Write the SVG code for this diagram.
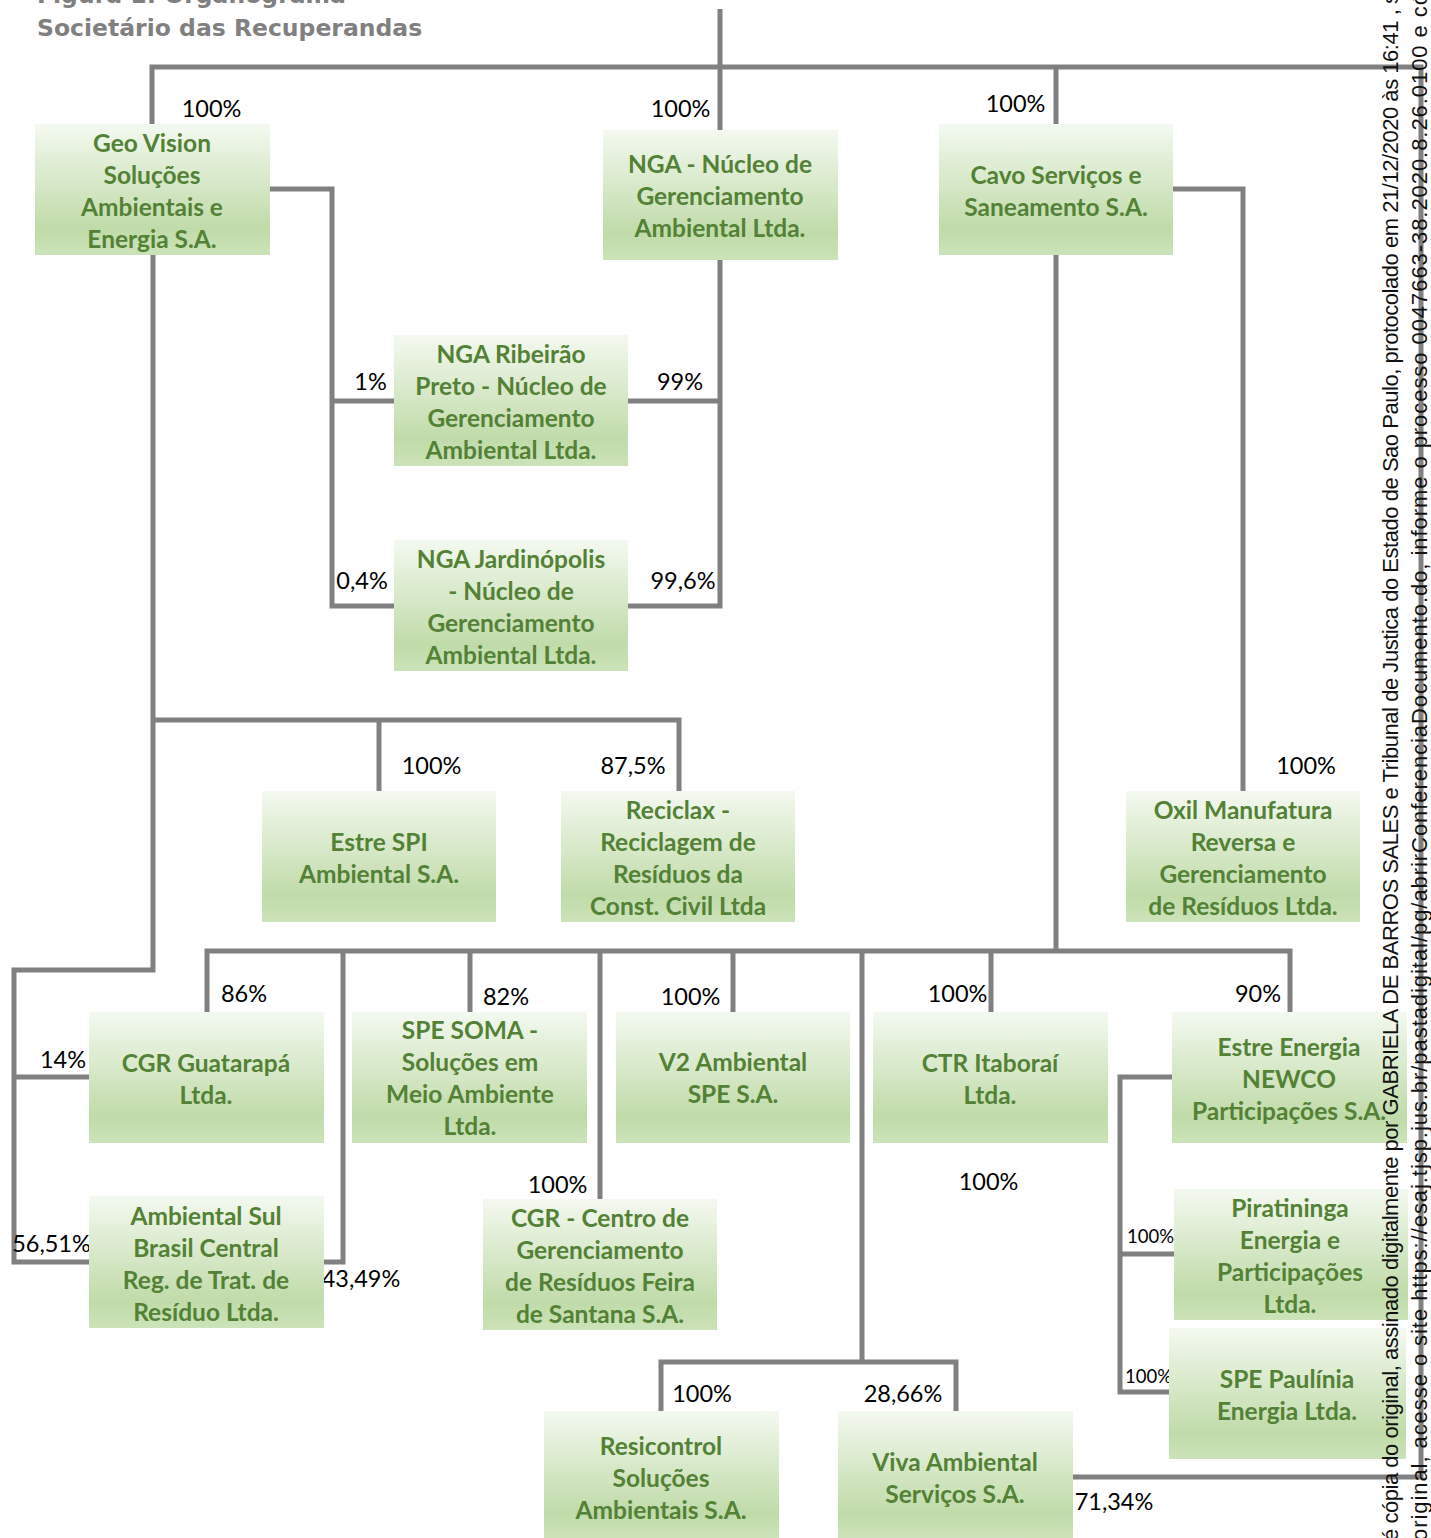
<svg xmlns="http://www.w3.org/2000/svg" width="1431" height="1538" viewBox="0 0 1431 1538">
<defs>
<linearGradient id="g" x1="0" y1="0" x2="0" y2="1">
<stop offset="0" stop-color="#f4f9f0"/>
<stop offset="0.8" stop-color="#c0dba9"/>
<stop offset="1" stop-color="#cce3b9"/>
</linearGradient>
<style>
.box{fill:url(#g);}
.bt{font-family:Lato,"Liberation Sans",sans-serif;font-weight:bold;font-size:24.5px;fill:#538135;text-anchor:middle;}
.pc{font-family:Lato,"Liberation Sans",sans-serif;font-size:23.5px;fill:#000;text-anchor:middle;}
.ps{font-family:Lato,"Liberation Sans",sans-serif;font-size:18.5px;fill:#000;text-anchor:middle;}
.ln{fill:none;stroke:#808080;stroke-width:5;stroke-linejoin:miter;stroke-linecap:butt;}
.ttl{font-family:"DejaVu Sans",Verdana,sans-serif;font-weight:bold;font-size:23.5px;fill:#808080;}
.stamp{font-family:"Liberation Sans",Arial,sans-serif;font-size:22px;fill:#111;}
</style>
</defs>
<rect width="1431" height="1538" fill="#fff"/>
<g id="title">
<text class="ttl" x="37" y="3">Figura 1: Organograma</text>
<text class="ttl" x="37" y="36">Societário das Recuperandas</text>
</g>
<g id="connectors">
<path class="ln" d="M720,9 V130"/>
<path class="ln" d="M152,125 V67 H1421 V1477 H1073"/>
<path class="ln" d="M1056,67 V124"/>
<path class="ln" d="M270,189 H332 V606 H394 M332,401 H394"/>
<path class="ln" d="M720,260 V606 H628 M628,401 H720"/>
<path class="ln" d="M153,255 V970 H14 V1262 H89 M14,1077 H89"/>
<path class="ln" d="M153,720 H679 V791 M379,720 V791"/>
<path class="ln" d="M1056,255 V951"/>
<path class="ln" d="M207,1012 V951 H1290 V1012"/>
<path class="ln" d="M343,951 V1262 H324"/>
<path class="ln" d="M470,951 V1012 M600,951 V1199 M733,951 V1012 M862,951 V1362 M991,951 V1012"/>
<path class="ln" d="M1173,189 H1243 V791"/>
<path class="ln" d="M1172,1077 H1120 V1392 H1169 M1120,1254 H1174"/>
<path class="ln" d="M661,1411 V1362 H956 V1411"/>
</g>
<g id="labels">
<text class="pc" x="211.5" y="117">100%</text>
<text class="pc" x="680.5" y="117">100%</text>
<text class="pc" x="1015.5" y="112">100%</text>
<text class="pc" x="370.5" y="390">1%</text>
<text class="pc" x="680" y="390">99%</text>
<text class="pc" x="362" y="589">0,4%</text>
<text class="pc" x="683" y="589">99,6%</text>
<text class="pc" x="431.5" y="774">100%</text>
<text class="pc" x="633" y="774">87,5%</text>
<text class="pc" x="1306" y="774">100%</text>
<text class="pc" x="244" y="1002">86%</text>
<text class="pc" x="506" y="1005">82%</text>
<text class="pc" x="690.5" y="1005">100%</text>
<text class="pc" x="957.5" y="1002">100%</text>
<text class="pc" x="1258" y="1002">90%</text>
<text class="pc" x="63" y="1068">14%</text>
<text class="pc" x="51.5" y="1252">56,51%</text>
<text class="pc" x="361" y="1287">43,49%</text>
<text class="pc" x="557.5" y="1193">100%</text>
<text class="pc" x="988.5" y="1190">100%</text>
<text class="ps" x="1150.5" y="1243">100%</text>
<text class="ps" x="1148.5" y="1383">100%</text>
<text class="pc" x="702" y="1402">100%</text>
<text class="pc" x="903" y="1402">28,66%</text>
<text class="pc" x="1114" y="1510">71,34%</text>
</g>
<g id="geovision"><rect class="box" x="35" y="124" width="235" height="131"/>
<text class="bt"><tspan x="152" y="151.5">Geo Vision</tspan><tspan x="152" y="183.5">Soluções</tspan><tspan x="152" y="215.5">Ambientais e</tspan><tspan x="152" y="247.5">Energia S.A.</tspan></text></g>
<g id="nga"><rect class="box" x="603" y="130" width="235" height="130"/>
<text class="bt"><tspan x="720" y="172.5">NGA - Núcleo de</tspan><tspan x="720" y="204.5">Gerenciamento</tspan><tspan x="720" y="236.5">Ambiental Ltda.</tspan></text></g>
<g id="cavo"><rect class="box" x="939" y="124" width="234" height="131"/>
<text class="bt"><tspan x="1056" y="183.5">Cavo Serviços e</tspan><tspan x="1056" y="215.5">Saneamento S.A.</tspan></text></g>
<g id="ngaribeirao"><rect class="box" x="394" y="335" width="234" height="131"/>
<text class="bt"><tspan x="511" y="362.5">NGA Ribeirão</tspan><tspan x="511" y="394.5">Preto - Núcleo de</tspan><tspan x="511" y="426.5">Gerenciamento</tspan><tspan x="511" y="458.5">Ambiental Ltda.</tspan></text></g>
<g id="ngajardinopolis"><rect class="box" x="394" y="540" width="234" height="131"/>
<text class="bt"><tspan x="511" y="567.5">NGA Jardinópolis</tspan><tspan x="511" y="599.5">- Núcleo de</tspan><tspan x="511" y="631.5">Gerenciamento</tspan><tspan x="511" y="663.5">Ambiental Ltda.</tspan></text></g>
<g id="estrespi"><rect class="box" x="262" y="791" width="234" height="131"/>
<text class="bt"><tspan x="379" y="850.5">Estre SPI</tspan><tspan x="379" y="882.5">Ambiental S.A.</tspan></text></g>
<g id="reciclax"><rect class="box" x="561" y="791" width="234" height="131"/>
<text class="bt"><tspan x="678" y="818.5">Reciclax -</tspan><tspan x="678" y="850.5">Reciclagem de</tspan><tspan x="678" y="882.5">Resíduos da</tspan><tspan x="678" y="914.5">Const. Civil Ltda</tspan></text></g>
<g id="oxil"><rect class="box" x="1126" y="791" width="234" height="131"/>
<text class="bt"><tspan x="1243" y="818.5">Oxil Manufatura</tspan><tspan x="1243" y="850.5">Reversa e</tspan><tspan x="1243" y="882.5">Gerenciamento</tspan><tspan x="1243" y="914.5">de Resíduos Ltda.</tspan></text></g>
<g id="cgrguatarapa"><rect class="box" x="89" y="1012" width="235" height="131"/>
<text class="bt"><tspan x="206" y="1071.5">CGR Guatarapá</tspan><tspan x="206" y="1103.5">Ltda.</tspan></text></g>
<g id="spesoma"><rect class="box" x="352" y="1012" width="235" height="131"/>
<text class="bt"><tspan x="470" y="1038.5">SPE SOMA -</tspan><tspan x="470" y="1070.5">Soluções em</tspan><tspan x="470" y="1102.5">Meio Ambiente</tspan><tspan x="470" y="1134.5">Ltda.</tspan></text></g>
<g id="v2"><rect class="box" x="616" y="1012" width="234" height="131"/>
<text class="bt"><tspan x="733" y="1070.5">V2 Ambiental</tspan><tspan x="733" y="1102.5">SPE S.A.</tspan></text></g>
<g id="ctr"><rect class="box" x="873" y="1012" width="235" height="131"/>
<text class="bt"><tspan x="990" y="1071.5">CTR Itaboraí</tspan><tspan x="990" y="1103.5">Ltda.</tspan></text></g>
<g id="estreenergia"><rect class="box" x="1172" y="1012" width="235" height="131"/>
<text class="bt"><tspan x="1289" y="1055.5">Estre Energia</tspan><tspan x="1289" y="1087.5">NEWCO</tspan><tspan x="1289" y="1119.5">Participações S.A.</tspan></text></g>
<g id="ambientalsul"><rect class="box" x="89" y="1196" width="235" height="132"/>
<text class="bt"><tspan x="206" y="1224.5">Ambiental Sul</tspan><tspan x="206" y="1256.5">Brasil Central</tspan><tspan x="206" y="1288.5">Reg. de Trat. de</tspan><tspan x="206" y="1320.5">Resíduo Ltda.</tspan></text></g>
<g id="cgrfeira"><rect class="box" x="483" y="1199" width="234" height="131"/>
<text class="bt"><tspan x="600" y="1226.5">CGR - Centro de</tspan><tspan x="600" y="1258.5">Gerenciamento</tspan><tspan x="600" y="1290.5">de Resíduos Feira</tspan><tspan x="600" y="1322.5">de Santana S.A.</tspan></text></g>
<g id="piratininga"><rect class="box" x="1174" y="1189" width="234" height="131"/>
<text class="bt"><tspan x="1290" y="1216.5">Piratininga</tspan><tspan x="1290" y="1248.5">Energia e</tspan><tspan x="1290" y="1280.5">Participações</tspan><tspan x="1290" y="1312.5">Ltda.</tspan></text></g>
<g id="spepaulinia"><rect class="box" x="1169" y="1328" width="237" height="131"/>
<text class="bt"><tspan x="1287" y="1387.5">SPE Paulínia</tspan><tspan x="1287" y="1419.5">Energia Ltda.</tspan></text></g>
<g id="resicontrol"><rect class="box" x="544" y="1411" width="235" height="127"/>
<text class="bt"><tspan x="661" y="1454.5">Resicontrol</tspan><tspan x="661" y="1486.5">Soluções</tspan><tspan x="661" y="1518.5">Ambientais S.A.</tspan></text></g>
<g id="viva"><rect class="box" x="838" y="1411" width="235" height="127"/>
<text class="bt"><tspan x="955" y="1470.5">Viva Ambiental</tspan><tspan x="955" y="1502.5">Serviços S.A.</tspan></text></g>
<g id="stamp">
<text class="stamp" transform="translate(1398,1541) rotate(-90)" x="0" y="0" textLength="1548" lengthAdjust="spacing">é cópia do original, assinado digitalmente por GABRIELA DE BARROS SALES e Tribunal de Justica do Estado de Sao Paulo, protocolado em 21/12/2020 às 16:41 , s</text>
<text class="stamp" transform="translate(1427,1541) rotate(-90)" x="0" y="0" textLength="1548" lengthAdjust="spacing">original, acesse o site https://esaj.tjsp.jus.br/pastadigital/pg/abrirConferenciaDocumento.do, informe o processo 0047663-38.2020.8.26.0100 e có</text>
</g>
</svg>
